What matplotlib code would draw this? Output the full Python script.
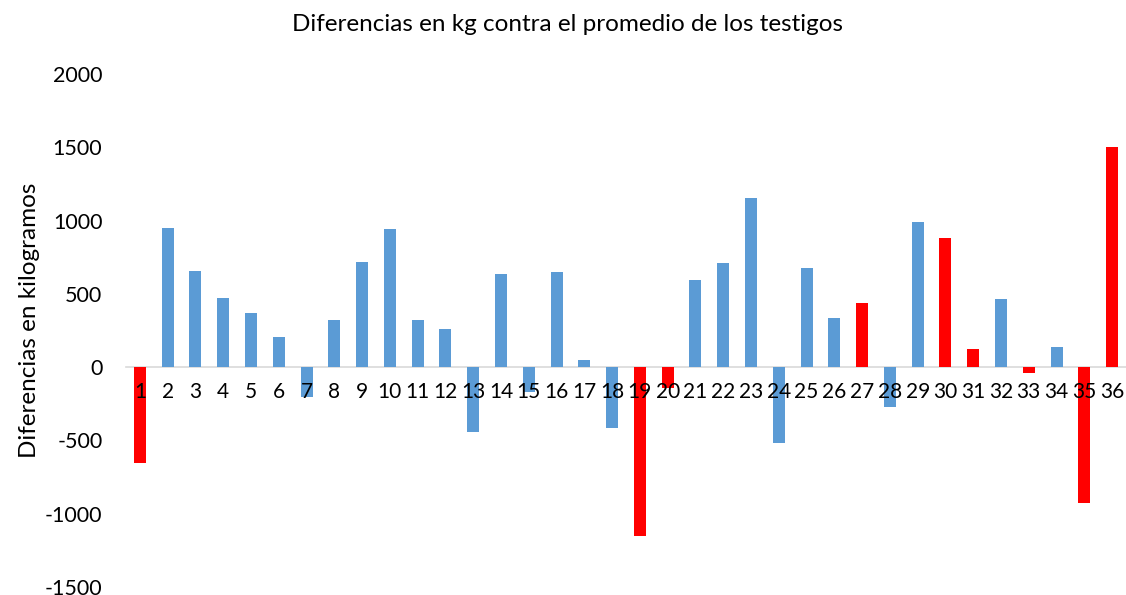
import matplotlib
matplotlib.use('Agg')
import matplotlib.pyplot as plt

plt.rcParams['font.family'] = ['Lato', 'DejaVu Sans']
plt.rcParams['axes.unicode_minus'] = False

# parcelas 1..36, diferencias contra promedio de testigos (kg)
parcelas = list(range(1, 37))
diferencias = [-655, 948, 655, 470, 368, 205, -205, 325, 716, 941,
               320, 259, -443, 634, -170, 648, 48, -416, -1153, -143,
               593, 709, 1153, -518, 675, 334, 436, -273, 989, 880,
               123, 464, -41, 136, -928, 1500]
# parcelas marcadas en rojo
rojas = [1, 19, 20, 27, 30, 31, 33, 35, 36]

colores = ['#FF0000' if p in rojas else '#5B9BD5' for p in parcelas]

fig = plt.figure(figsize=(11.26, 5.95), dpi=100)
ax = fig.add_axes([126 / 1126, 8 / 595, 1000 / 1126, 513 / 595])

ax.bar(parcelas, diferencias, width=0.43, color=colores, zorder=2)

ax.set_xlim(0.5, 36.5)
ax.set_ylim(-1500, 2000)
ax.set_yticks(range(-1500, 2001, 500))
ax.set_xticks(parcelas)
ax.set_xticklabels([str(p) for p in parcelas])

for s in ['top', 'right', 'left']:
    ax.spines[s].set_visible(False)
ax.spines['bottom'].set_position(('data', 0))
ax.spines['bottom'].set_color('#D9D9D9')
ax.spines['bottom'].set_linewidth(1.2)
ax.spines['bottom'].set_zorder(1)
# etiquetas del eje x por encima de las barras
ax.xaxis.set_zorder(5)

ax.tick_params(axis='x', length=0, pad=11, labelsize=15)
ax.tick_params(axis='y', length=0, pad=17, labelsize=15.5)

fig.text(30 / 1126, 1 - 320 / 595, 'Diferencias en kilogramos', rotation=90,
         ha='center', va='center', fontsize=17.5)
fig.text(0.504, 0.958, 'Diferencias en kg contra el promedio de los testigos',
         ha='center', va='center', fontsize=17.5)

fig.savefig('out.png', dpi=100)
